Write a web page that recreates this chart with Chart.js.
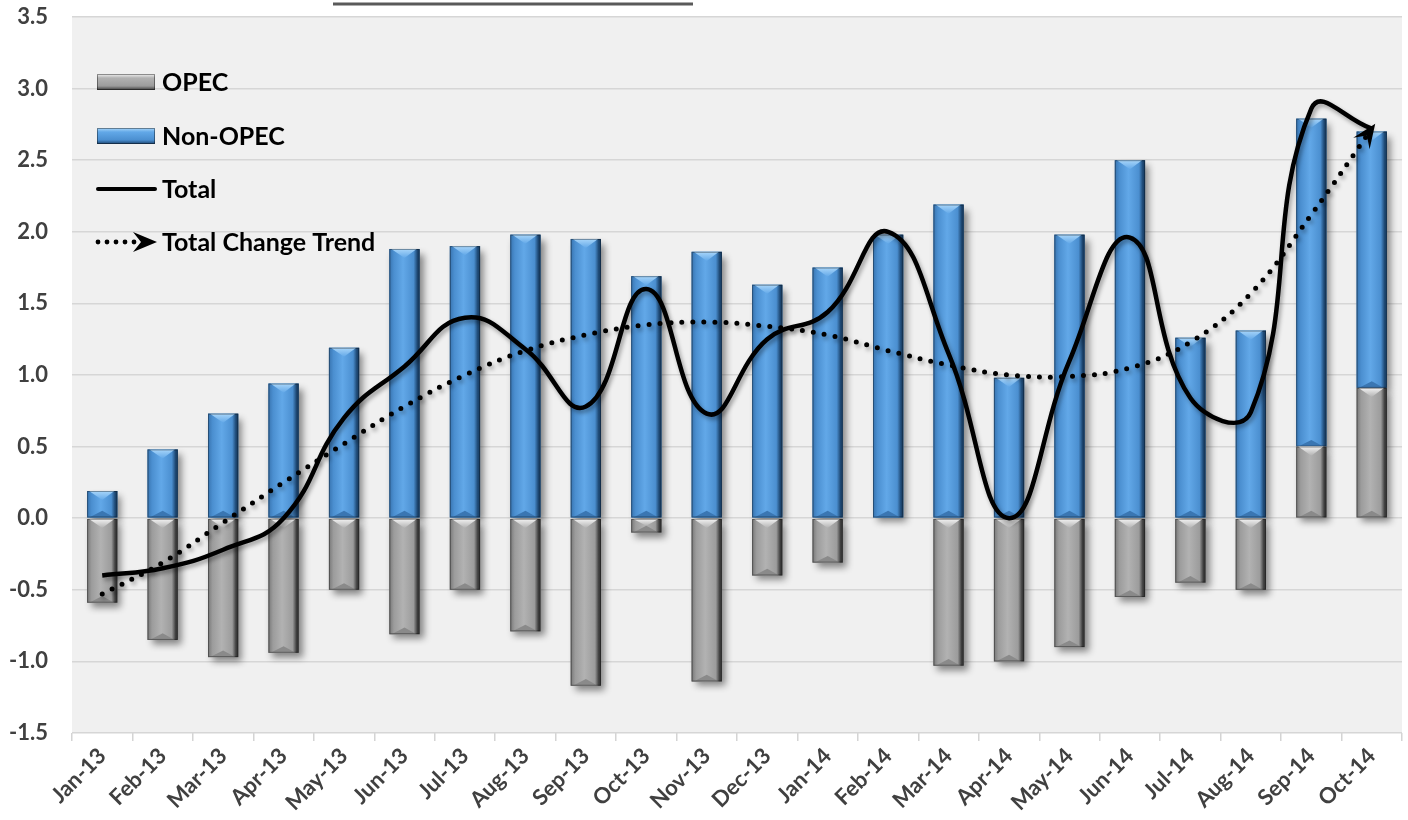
<!DOCTYPE html>
<html>
<head>
<meta charset="utf-8">
<script src="https://cdn.jsdelivr.net/npm/chart.js@4.4.1/dist/chart.umd.min.js"></script>
<style>
  html, body { margin: 0; padding: 0; background: #fff; }
  #wrap { width: 1408px; height: 820px; position: relative; }
</style>
</head>
<body>
<div id="wrap"><canvas id="chart" width="1408" height="820"></canvas></div>
<script>
const months = ['Jan-13', 'Feb-13', 'Mar-13', 'Apr-13', 'May-13', 'Jun-13', 'Jul-13', 'Aug-13', 'Sep-13', 'Oct-13', 'Nov-13',
  'Dec-13', 'Jan-14', 'Feb-14', 'Mar-14', 'Apr-14', 'May-14', 'Jun-14', 'Jul-14', 'Aug-14', 'Sep-14', 'Oct-14']

// million b/d
const opec = [-0.59, -0.85, -0.97, -0.94, -0.50, -0.81, -0.50, -0.79, -1.17, -0.10, -1.14,
  -0.40, -0.31, 0.00, -1.03, -1.00, -0.90, -0.55, -0.45, -0.50, 0.50, 0.91]
const nonOpec = [0.19, 0.48, 0.73, 0.94, 1.19, 1.88, 1.90, 1.98, 1.95, 1.69, 1.86,
  1.63, 1.75, 1.98, 2.19, 0.98, 1.98, 2.50, 1.26, 1.31, 2.29, 1.79]
const total = [-0.40, -0.35, -0.22, 0.00, 0.70, 1.06, 1.40, 1.18, 0.78, 1.60, 0.73,
  1.25, 1.44, 2.00, 1.15, 0.00, 1.10, 1.96, 0.84, 0.74, 2.86, 2.72]
const trend = [-0.53, -0.31, -0.03, 0.25, 0.52, 0.78, 1.00, 1.17, 1.28, 1.35, 1.37,
  1.34, 1.28, 1.17, 1.07, 1.00, 0.99, 1.05, 1.23, 1.57, 2.12, 2.72]

const yTicks = { min: -1.5, max: 3.5, step: 0.5 }

const BLUE = { base: '#4b8fd0', mid: '#62a8e8', edgeL: '#3874b0', edgeR: '#1c456f', top: '#a9d6fa', bottom: '#3a76b2' }
const GREY = { base: '#9c9c9c', mid: '#b2b2b2', edgeL: '#787878', edgeR: '#3c3c3c', top: '#f2f2f2', bottom: '#8a8a8a' }
const FONT = 'Lato, "Open Sans", sans-serif'

function bevelRect(ctx, L, T, R, B, pal) {
  const w = R - L, h = B - T
  if (h < 1) return
  const g = ctx.createLinearGradient(L, 0, R, 0)
  g.addColorStop(0, pal.edgeL)
  g.addColorStop(0.15, pal.base)
  g.addColorStop(0.45, pal.mid)
  g.addColorStop(0.8, pal.base)
  g.addColorStop(0.93, pal.edgeR)
  g.addColorStop(1, pal.edgeR)
  ctx.fillStyle = g
  ctx.fillRect(L, T, w, h)
  const cx = L + w / 2
  const c = Math.min(w * 0.3, h / 2)
  // light chevron on top face
  const gt = ctx.createLinearGradient(0, T, 0, T + c)
  gt.addColorStop(0, pal.top)
  gt.addColorStop(1, pal.mid)
  ctx.fillStyle = gt
  ctx.beginPath()
  ctx.moveTo(L + 2, T)
  ctx.lineTo(R - 3, T)
  ctx.lineTo(cx, T + c)
  ctx.closePath()
  ctx.fill()
  // bottom face
  const cb = Math.min(w * 0.22, h / 2)
  ctx.fillStyle = pal.bottom
  ctx.beginPath()
  ctx.moveTo(L + 2, B)
  ctx.lineTo(R - 3, B)
  ctx.lineTo(cx, B - cb)
  ctx.closePath()
  ctx.fill()
  ctx.strokeStyle = 'rgba(0,0,0,0.35)'
  ctx.lineWidth = 1
  ctx.strokeRect(L + 0.5, T + 0.5, w - 1, h - 1)
}

function barBox(el) {
  const p = el.getProps(['x', 'y', 'base', 'width'], true)
  return { L: p.x - p.width / 2, R: p.x + p.width / 2, T: Math.min(p.y, p.base), B: Math.max(p.y, p.base) }
}

const plotBg = {
  id: 'plotBg',
  beforeDraw(chart) {
    const { ctx, chartArea: a } = chart
    ctx.save()
    ctx.fillStyle = '#f0f0f0'
    ctx.fillRect(a.left, a.top, a.right - a.left, a.bottom - a.top)
    // underline of the cut-off title above the chart
    ctx.strokeStyle = '#5a5a5a'
    ctx.lineWidth = 3
    ctx.beginPath()
    ctx.moveTo(333, 4)
    ctx.lineTo(693, 4)
    ctx.stroke()
    ctx.restore()
  }
}

const barLook = {
  id: 'barLook',
  beforeDatasetsDraw(chart) {
    const ctx = chart.ctx
    ctx.save()
    chart.data.datasets.forEach((ds, i) => {
      if (ds.type !== 'bar') return
      chart.getDatasetMeta(i).data.forEach(el => {
        const b = barBox(el)
        if (b.B - b.T < 1) return
        ctx.shadowColor = 'rgba(0,0,0,0.45)'
        ctx.shadowBlur = 7
        ctx.shadowOffsetX = 4
        ctx.shadowOffsetY = 5
        ctx.fillStyle = '#888'
        ctx.fillRect(b.L, b.T, b.R - b.L, b.B - b.T)
      })
    })
    ctx.restore()
  },
  beforeDatasetDraw(chart, args) {
    const ds = chart.data.datasets[args.index]
    if (ds.type === 'line') {
      const ctx = chart.ctx
      ctx.save()
      ctx.shadowColor = 'rgba(0,0,0,0.35)'
      ctx.shadowBlur = 4
      ctx.shadowOffsetX = 2
      ctx.shadowOffsetY = 3
    }
  },
  afterDatasetDraw(chart, args) {
    const ds = chart.data.datasets[args.index]
    const ctx = chart.ctx
    if (ds.type === 'line') {
      ctx.restore()
      if (ds.arrow) {
        // arrow head at the end of the trend line
        const pts = args.meta.data
        const last = pts[pts.length - 1]
        const ang = Math.atan2(last.y - last.cp1y, last.x - last.cp1x)
        const len = 24, half = 10
        ctx.save()
        ctx.translate(last.x, last.y)
        ctx.rotate(ang)
        ctx.fillStyle = '#000'
        ctx.beginPath()
        ctx.moveTo(6, 0)
        ctx.lineTo(6 - len, -half)
        ctx.lineTo(6 - len * 0.6, 0)
        ctx.lineTo(6 - len, half)
        ctx.closePath()
        ctx.fill()
        ctx.restore()
      }
      return
    }
    ctx.save()
    args.meta.data.forEach(el => {
      const b = barBox(el)
      bevelRect(ctx, b.L, b.T, b.R, b.B, ds.palette)
    })
    ctx.restore()
  }
}

const legendBox = {
  id: 'legendBox',
  afterDraw(chart) {
    const ctx = chart.ctx
    ctx.save()
    ctx.font = 'bold 25px ' + FONT
    ctx.fillStyle = '#000'
    ctx.textBaseline = 'middle'
    const rows = [
      { y: 82, label: 'OPEC', kind: 'bar', pal: GREY },
      { y: 136, label: 'Non-OPEC', kind: 'bar', pal: BLUE },
      { y: 189, label: 'Total', kind: 'line' },
      { y: 242, label: 'Total Change Trend', kind: 'trend' }
    ]
    rows.forEach(r => {
      if (r.kind === 'bar') {
        const g = ctx.createLinearGradient(0, r.y - 8, 0, r.y + 8)
        g.addColorStop(0, r.pal.top)
        g.addColorStop(0.25, r.pal.mid)
        g.addColorStop(0.75, r.pal.base)
        g.addColorStop(1, r.pal.edgeR)
        ctx.fillStyle = g
        ctx.fillRect(97, r.y - 8, 58, 16)
        ctx.strokeStyle = 'rgba(0,0,0,0.4)'
        ctx.lineWidth = 1
        ctx.strokeRect(97.5, r.y - 7.5, 57, 15)
      } else if (r.kind === 'line') {
        ctx.strokeStyle = '#000'
        ctx.lineWidth = 4
        ctx.lineCap = 'round'
        ctx.beginPath()
        ctx.moveTo(98, r.y)
        ctx.lineTo(155, r.y)
        ctx.stroke()
      } else {
        ctx.fillStyle = '#000'
        for (let x = 98; x <= 134; x += 9) {
          ctx.beginPath()
          ctx.arc(x, r.y, 2.4, 0, Math.PI * 2)
          ctx.fill()
        }
        ctx.beginPath()
        ctx.moveTo(157, r.y)
        ctx.lineTo(133, r.y - 10)
        ctx.lineTo(141, r.y)
        ctx.lineTo(133, r.y + 10)
        ctx.closePath()
        ctx.fill()
      }
      ctx.fillStyle = '#000'
      ctx.fillText(r.label, 162, r.y + 1)
    })
    ctx.restore()
  }
}

new Chart(document.getElementById('chart'), {
  data: {
    labels: months,
    datasets: [
      {
        type: 'line', label: 'Total', data: total, stack: 'total', order: 0,
        borderColor: '#000', borderWidth: 4.5, pointRadius: 0, tension: 0.45, fill: false
      },
      {
        type: 'line', label: 'Total Change Trend', data: trend, stack: 'trend', order: 0, arrow: true,
        borderColor: '#000', borderWidth: 5, borderDash: [0, 11], borderCapStyle: 'round',
        pointRadius: 0, tension: 0.4, fill: false
      },
      {
        type: 'bar', label: 'OPEC', data: opec, stack: 'bars', order: 1, palette: GREY,
        backgroundColor: GREY.base, borderWidth: 0, barPercentage: 0.5, categoryPercentage: 1
      },
      {
        type: 'bar', label: 'Non-OPEC', data: nonOpec, stack: 'bars', order: 2, palette: BLUE,
        backgroundColor: BLUE.base, borderWidth: 0, barPercentage: 0.5, categoryPercentage: 1
      }
    ]
  },
  options: {
    responsive: false,
    animation: false,
    layout: { padding: { top: 0, right: 6, left: 0, bottom: 0 } },
    plugins: { legend: { display: false }, tooltip: { enabled: false } },
    scales: {
      x: {
        stacked: true,
        offset: true,
        grid: { offset: true, drawOnChartArea: false, drawTicks: true, tickLength: 8, color: '#d4d4d4', lineWidth: 1.5 },
        border: { display: false },
        ticks: { color: '#404040', font: { family: FONT, size: 22, weight: 'bold' }, minRotation: 45, maxRotation: 45, padding: 2 },
        afterFit(s) { s.height = 87 }
      },
      y: {
        stacked: true,
        min: yTicks.min,
        max: yTicks.max,
        grid: { color: '#d6d6d6', lineWidth: 1.5, drawTicks: false },
        border: { display: false },
        ticks: {
          stepSize: yTicks.step, padding: 24, color: '#404040',
          font: { family: FONT, size: 22, weight: 'bold' },
          callback: v => v.toFixed(1)
        },
        afterFit(s) { s.width = 72; s.paddingTop = 17; s.paddingBottom = 0 }
      }
    }
  },
  plugins: [plotBg, barLook, legendBox]
})
</script>
</body>
</html>
